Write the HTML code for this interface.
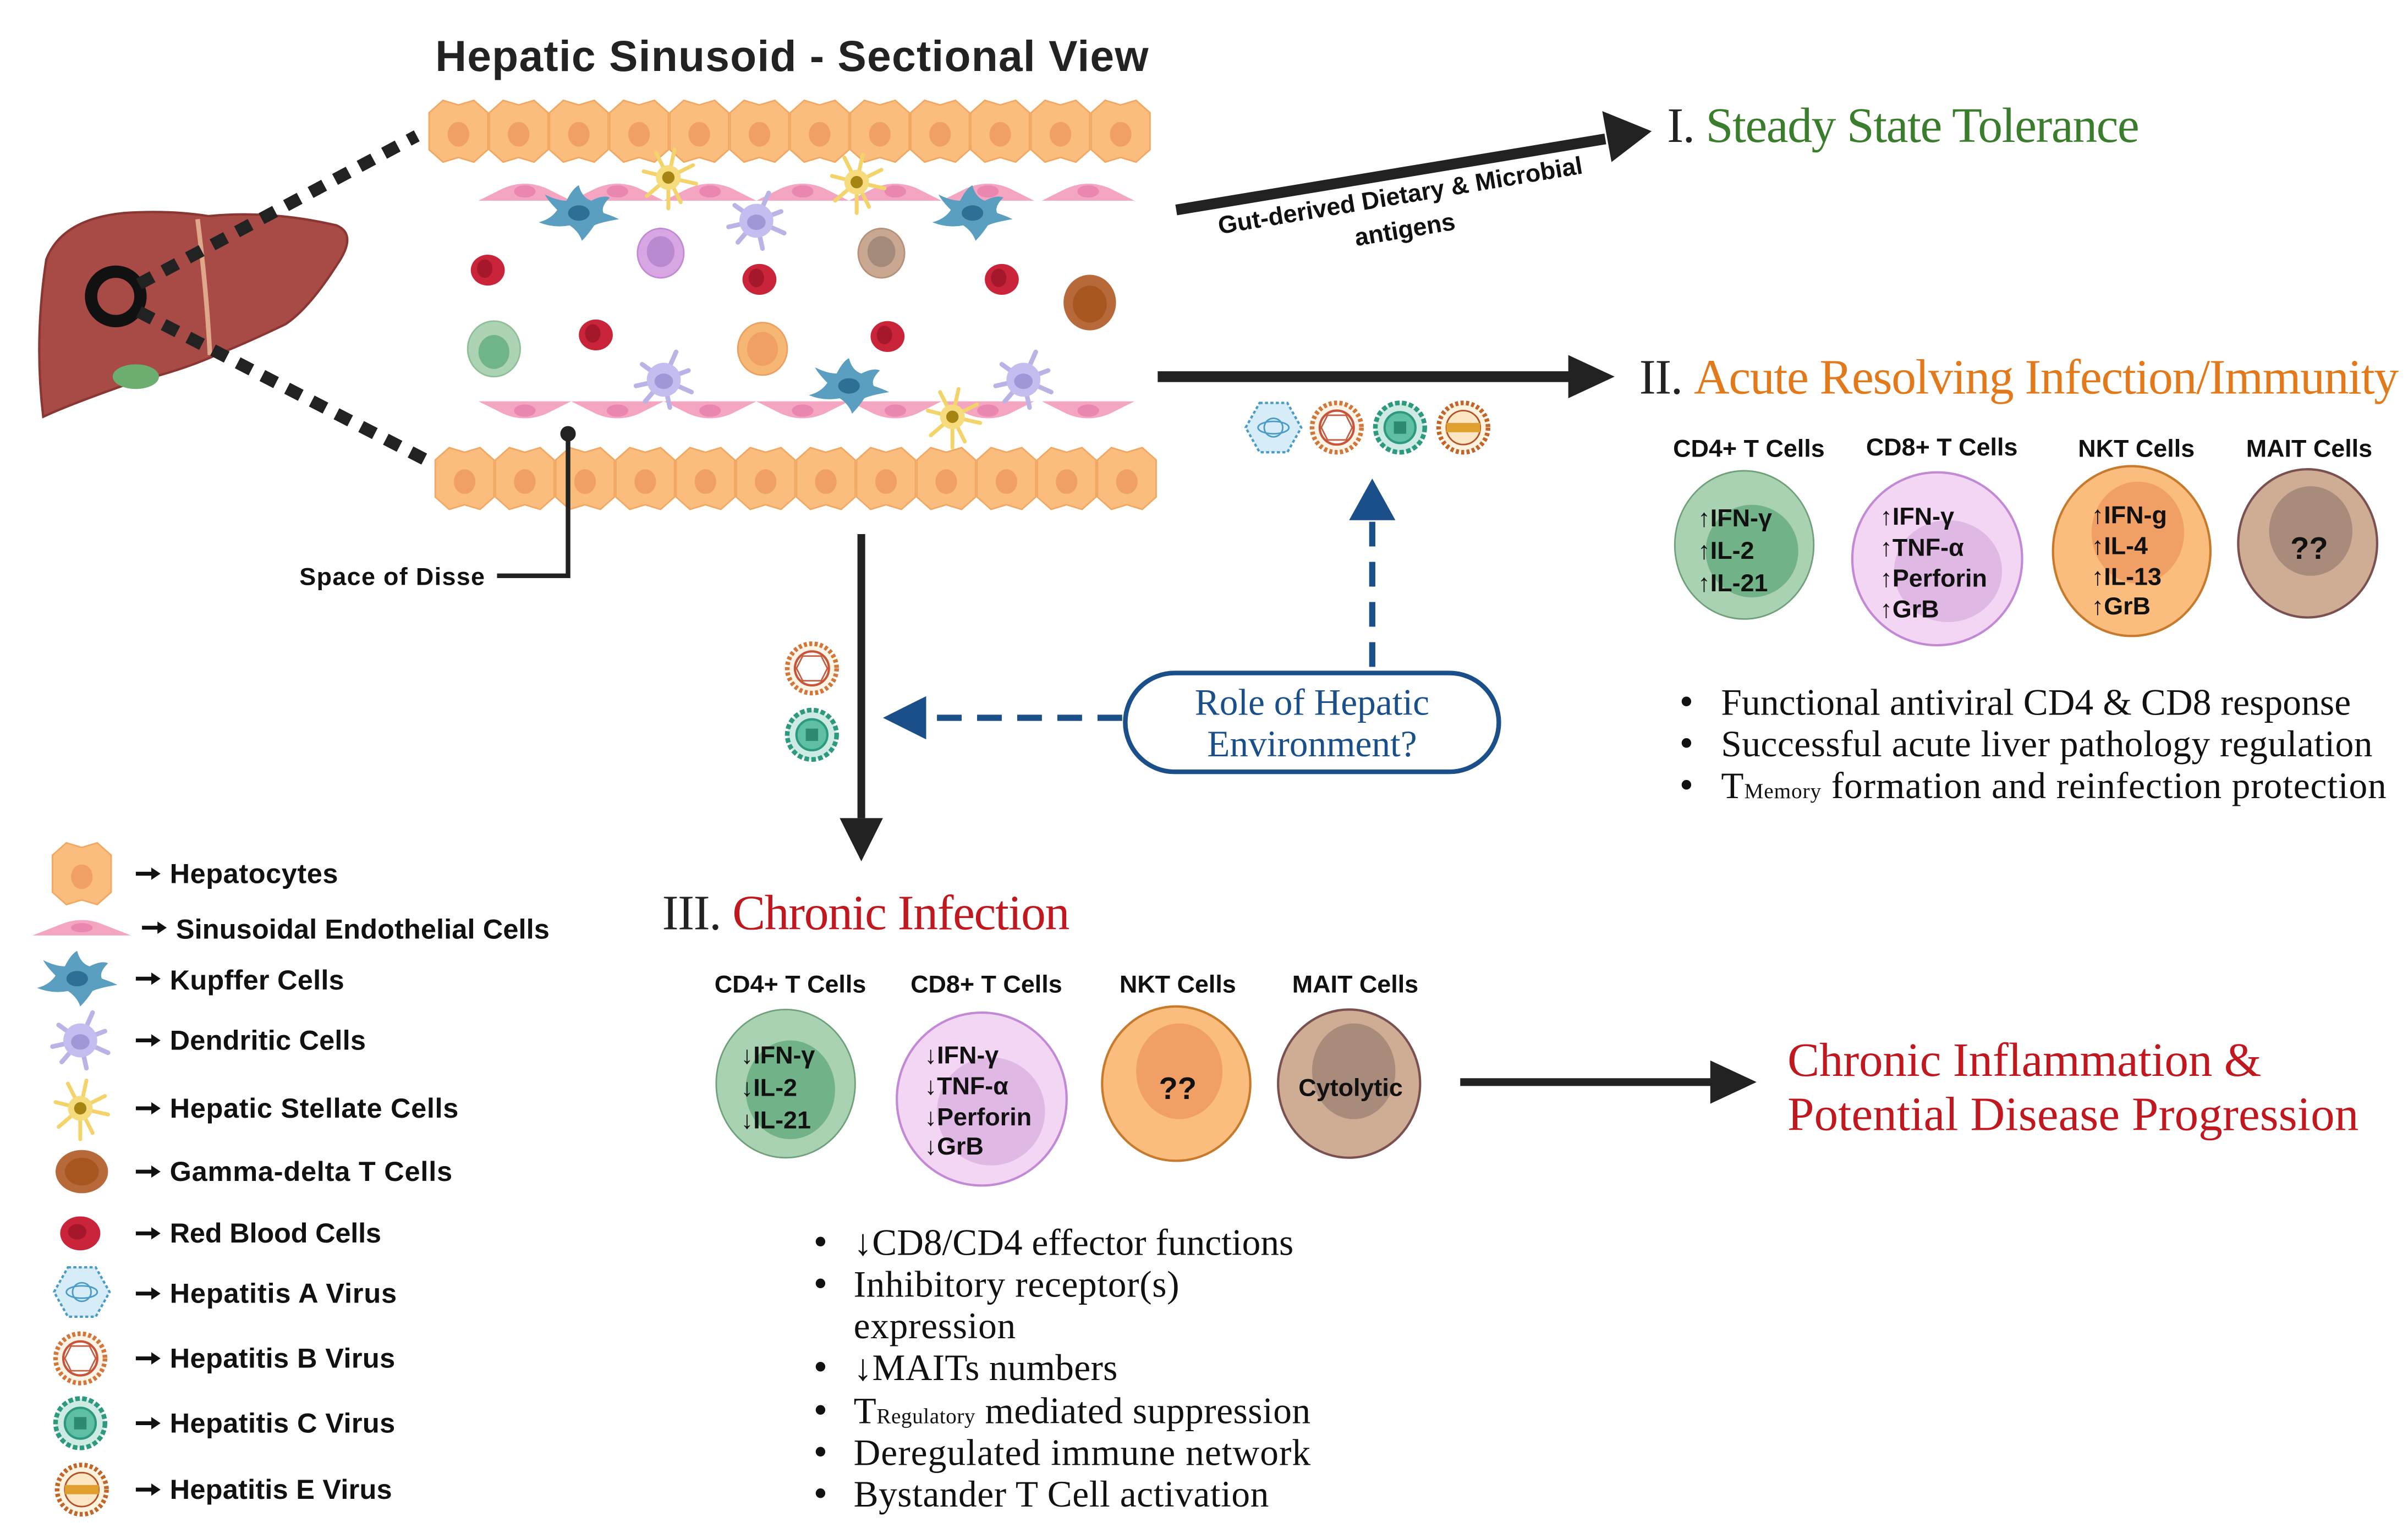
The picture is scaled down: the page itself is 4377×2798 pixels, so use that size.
<!DOCTYPE html>
<html><head><meta charset="utf-8">
<style>
html,body{margin:0;padding:0;background:#fff;}
svg{display:block;}
.sb{font-family:"Liberation Sans",sans-serif;font-weight:bold;}
.sf{font-family:"Liberation Serif",serif;}
</style></head>
<body>
<svg width="4377" height="2798" viewBox="0 0 1560 997" preserveAspectRatio="none" xmlns="http://www.w3.org/2000/svg">
<defs>
  <g id="hep">
    <path d="M-19,-12 L-10,-20 L0,-17 L10,-20 L19,-12 L19,12 L10,20 L0,17 L-10,20 L-19,12 Z" fill="#fbbd7e" stroke="#f0a862" stroke-width="1"/>
    <ellipse cx="0" cy="2" rx="7" ry="8" fill="#f0a064"/>
  </g>
  <g id="endo">
    <path d="M-30,4 L-14,-4 Q0,-10 14,-4 L30,4 Z" fill="#f4a5c2"/>
    <ellipse cx="0" cy="-2" rx="7" ry="4" fill="#e987b0"/>
  </g>
  <g id="endoD">
    <path d="M-30,-4 L-14,4 Q0,10 14,4 L30,-4 Z" fill="#f4a5c2"/>
    <ellipse cx="0" cy="2" rx="7" ry="4" fill="#e987b0"/>
  </g>
  <g id="kup">
    <path d="M-26,6 Q-18,4 -14,-2 Q-20,-8 -22,-12 Q-14,-8 -8,-8 Q-4,-16 0,-18 Q2,-10 8,-8 Q16,-12 20,-10 Q14,-4 16,0 Q22,2 26,4 Q14,6 10,8 Q6,14 2,18 Q0,12 -6,8 Q-16,10 -26,6Z" fill="#5a9fc0"/>
    <ellipse cx="0" cy="0" rx="7" ry="5" fill="#2e6f95"/>
  </g>
  <g id="den" stroke="#b9b3e6" stroke-width="3" stroke-linecap="round">
    <line x1="0" y1="0" x2="-14" y2="-10"/><line x1="0" y1="0" x2="8" y2="-18"/><line x1="0" y1="0" x2="16" y2="-6"/>
    <line x1="0" y1="0" x2="18" y2="8"/><line x1="0" y1="0" x2="4" y2="18"/><line x1="0" y1="0" x2="-12" y2="14"/><line x1="0" y1="0" x2="-18" y2="4"/>
    <circle r="11" fill="#c4bdf0" stroke="none"/><ellipse cx="0" cy="1" rx="6" ry="5" fill="#9f98d6" stroke="none"/>
  </g>
  <g id="stel" stroke="#f3d46a" stroke-width="2.5" stroke-linecap="round">
    <line x1="0" y1="0" x2="-16" y2="-4"/><line x1="0" y1="0" x2="-8" y2="-16"/><line x1="0" y1="0" x2="4" y2="-18"/><line x1="0" y1="0" x2="16" y2="-8"/>
    <line x1="0" y1="0" x2="18" y2="4"/><line x1="0" y1="0" x2="8" y2="16"/><line x1="0" y1="0" x2="0" y2="20"/><line x1="0" y1="0" x2="-14" y2="12"/>
    <circle r="8" fill="#f6dc7c" stroke="none"/><circle r="4" fill="#a68413" stroke="none"/>
  </g>
  <g id="rbc"><ellipse rx="11" ry="10" fill="#c9243a"/><ellipse cx="-2" cy="-1" rx="5" ry="6" fill="#a5172a"/></g>
  <g id="hav"><path d="M-9,-16 L9,-16 L18,0 L9,16 L-9,16 L-18,0Z" fill="#d6ecf6" stroke="#4a9cc6" stroke-width="1.5" stroke-dasharray="2 1.5"/><circle r="6" fill="none" stroke="#4a9cc6" stroke-width="1"/><ellipse rx="10" ry="4" fill="none" stroke="#4a9cc6" stroke-width="1"/></g>
  <g id="hbv"><circle r="16" fill="#fff3e6" stroke="#d2763a" stroke-width="3" stroke-dasharray="2 1.5"/><circle r="11" fill="#fff" stroke="#c8553a" stroke-width="1.5"/><path d="M-6,-8 L6,-8 L10,0 L6,8 L-6,8 L-10,0Z" fill="none" stroke="#c06040" stroke-width="1"/></g>
  <g id="hcv"><circle r="16" fill="#cdebe2" stroke="#2d9a80" stroke-width="3" stroke-dasharray="3 1.5"/><circle r="10" fill="#5fbfa3" stroke="#2d9a80" stroke-width="1.5"/><rect x="-4" y="-4" width="8" height="8" fill="#2d8a70"/></g>
  <g id="hev"><circle r="16" fill="#fff3e0" stroke="#c0662a" stroke-width="3" stroke-dasharray="2 1.5"/><circle r="11" fill="#fde6c4" stroke="#b55025" stroke-width="1"/><rect x="-11" y="-3" width="22" height="6" fill="#e0a030"/></g>
</defs>

<text x="513" y="46" class="sb" font-size="28" text-anchor="middle" fill="#222" textLength="462">Hepatic Sinusoid - Sectional View</text>

<path d="M30,168 Q40,142 80,138 Q110,136 135,140 Q175,136 218,146 Q232,152 218,172 Q200,200 185,210 Q160,222 140,230 Q118,240 85,248 Q45,262 28,270 Q22,220 30,168Z" fill="#a84a46" stroke="#8a3733" stroke-width="1.5"/>
<ellipse cx="88" cy="244" rx="15" ry="8" fill="#6bae6f"/>
<path d="M128,142 Q134,190 136,230" stroke="#e0a88a" stroke-width="3" fill="none"/>
<circle cx="75" cy="192" r="16" fill="none" stroke="#111" stroke-width="8"/>
<line x1="90" y1="184" x2="270" y2="88" stroke="#222" stroke-width="8" stroke-dasharray="10 8"/>
<line x1="90" y1="202" x2="276" y2="298" stroke="#222" stroke-width="8" stroke-dasharray="10 8"/>

<g>
<use href="#hep" x="297" y="85"/><use href="#hep" x="336" y="85"/><use href="#hep" x="375" y="85"/><use href="#hep" x="414" y="85"/><use href="#hep" x="453" y="85"/><use href="#hep" x="492" y="85"/><use href="#hep" x="531" y="85"/><use href="#hep" x="570" y="85"/><use href="#hep" x="609" y="85"/><use href="#hep" x="648" y="85"/><use href="#hep" x="687" y="85"/><use href="#hep" x="726" y="85"/>
</g>
<g>
<use href="#hep" x="301" y="310"/><use href="#hep" x="340" y="310"/><use href="#hep" x="379" y="310"/><use href="#hep" x="418" y="310"/><use href="#hep" x="457" y="310"/><use href="#hep" x="496" y="310"/><use href="#hep" x="535" y="310"/><use href="#hep" x="574" y="310"/><use href="#hep" x="613" y="310"/><use href="#hep" x="652" y="310"/><use href="#hep" x="691" y="310"/><use href="#hep" x="730" y="310"/>
</g>
<g>
<use href="#endo" x="340" y="126"/><use href="#endo" x="400" y="126"/><use href="#endo" x="460" y="126"/><use href="#endo" x="520" y="126"/><use href="#endo" x="580" y="126"/><use href="#endo" x="640" y="126"/><use href="#endo" x="705" y="126"/>
<use href="#endoD" x="340" y="264"/><use href="#endoD" x="400" y="264"/><use href="#endoD" x="460" y="264"/><use href="#endoD" x="520" y="264"/><use href="#endoD" x="580" y="264"/><use href="#endoD" x="640" y="264"/><use href="#endoD" x="705" y="264"/>
</g>
<use href="#stel" x="433" y="115"/><use href="#stel" x="555" y="118"/><use href="#stel" x="617" y="270"/>
<use href="#kup" x="375" y="138"/><use href="#kup" x="630" y="138"/><use href="#kup" x="550" y="250"/>
<use href="#den" x="490" y="143"/><use href="#den" x="430" y="246"/><use href="#den" x="663" y="246"/>
<use href="#rbc" x="316" y="175"/><use href="#rbc" x="492" y="181"/><use href="#rbc" x="649" y="181"/><use href="#rbc" x="386" y="217"/><use href="#rbc" x="575" y="218"/>
<ellipse cx="428" cy="164" rx="15" ry="16" fill="#d7a6e3" stroke="#c28ad4"/><ellipse cx="428" cy="163" rx="9" ry="10" fill="#b98ad0"/>
<ellipse cx="571" cy="164" rx="15" ry="16" fill="#c9a791" stroke="#b3917a"/><ellipse cx="571" cy="163" rx="9" ry="10" fill="#a48a7b"/>
<ellipse cx="706" cy="196" rx="17" ry="18" fill="#b8693a"/><ellipse cx="706" cy="197" rx="11" ry="12" fill="#a75620"/>
<ellipse cx="320" cy="226" rx="17" ry="18" fill="#acd4b4" stroke="#8fbf98"/><ellipse cx="320" cy="228" rx="10" ry="11" fill="#6fb48a"/>
<ellipse cx="494" cy="226" rx="16" ry="17" fill="#f7b774" stroke="#eaa060"/><ellipse cx="494" cy="226" rx="10" ry="11" fill="#f0a064"/>

<circle cx="368" cy="281" r="5" fill="#222"/>
<polyline points="368,281 368,373 322,373" fill="none" stroke="#222" stroke-width="3"/>
<text x="194" y="379" class="sb" font-size="16" fill="#111" textLength="120">Space of Disse</text>

<line x1="762" y1="136" x2="1040" y2="90" stroke="#222" stroke-width="7"/>
<path d="M1070,85 L1038,72 L1044,105Z" fill="#222"/>
<text class="sb" font-size="16" fill="#111" transform="translate(908,132) rotate(-9.5)" text-anchor="middle">Gut-derived Dietary &amp; Microbial</text>
<text class="sb" font-size="16" fill="#111" transform="translate(911,154) rotate(-9.5)" text-anchor="middle">antigens</text>
<text x="1080" y="92" class="sf" font-size="32" textLength="306"><tspan fill="#222">I. </tspan><tspan fill="#3a7d2c">Steady State Tolerance</tspan></text>

<line x1="750" y1="244" x2="1020" y2="244" stroke="#222" stroke-width="7"/>
<path d="M1046,244 L1016,230 L1016,258Z" fill="#222"/>
<text x="1062" y="255" class="sf" font-size="32" textLength="492"><tspan fill="#222">II. </tspan><tspan fill="#e27a1b">Acute Resolving Infection/Immunity</tspan></text>

<use href="#hav" x="825" y="277"/><use href="#hbv" x="866" y="277"/><use href="#hcv" x="907" y="277"/><use href="#hev" x="948" y="277"/>

<g class="sb" font-size="16" fill="#111" text-anchor="middle">
<text x="1133" y="296">CD4+ T Cells</text><text x="1258" y="295">CD8+ T Cells</text><text x="1384" y="296">NKT Cells</text><text x="1496" y="296">MAIT Cells</text>
</g>
<ellipse cx="1130" cy="353" rx="45" ry="48" fill="#a9d2b2" stroke="#6fa07a"/><ellipse cx="1135" cy="357" rx="30" ry="30" fill="#72b289"/>
<ellipse cx="1255" cy="362" rx="55" ry="56" fill="#f3d6f3" stroke="#c28ad4" stroke-width="1.5"/><ellipse cx="1262" cy="370" rx="35" ry="33" fill="#e0b8e4"/>
<ellipse cx="1381" cy="357" rx="51" ry="55" fill="#fbbd7e" stroke="#c77a2c" stroke-width="1.5"/><ellipse cx="1385" cy="345" rx="30" ry="33" fill="#f0a064"/>
<ellipse cx="1495" cy="352" rx="45" ry="48" fill="#cfac94" stroke="#7a5050" stroke-width="1.5"/><ellipse cx="1497" cy="344" rx="27" ry="29" fill="#a88b7b"/>
<g class="sb" font-size="16" fill="#111">
<text x="1100" y="341">↑IFN-γ</text><text x="1100" y="362">↑IL-2</text><text x="1100" y="383">↑IL-21</text>
<text x="1218" y="340">↑IFN-γ</text><text x="1218" y="360">↑TNF-α</text><text x="1218" y="380">↑Perforin</text><text x="1218" y="400">↑GrB</text>
<text x="1355" y="339">↑IFN-g</text><text x="1355" y="359">↑IL-4</text><text x="1355" y="379">↑IL-13</text><text x="1355" y="398">↑GrB</text>
<text x="1496" y="362" text-anchor="middle" font-size="20">??</text>
</g>
<g class="sf" font-size="24" fill="#111">
<text x="1088" y="463" font-size="26">•</text><text x="1115" y="463" textLength="408">Functional antiviral CD4 &amp; CD8 response</text>
<text x="1088" y="490" font-size="26">•</text><text x="1115" y="490" textLength="422">Successful acute liver pathology regulation</text>
<text x="1088" y="517" font-size="26">•</text><text x="1115" y="517" textLength="431">T<tspan font-size="14">Memory</tspan> formation and reinfection protection</text>
</g>

<line x1="889" y1="432" x2="889" y2="338" stroke="#1a4f8a" stroke-width="4" stroke-dasharray="16 10"/>
<path d="M889,310 L874,337 L904,337Z" fill="#1a4f8a"/>
<rect x="729" y="436" width="242" height="64" rx="32" fill="#fff" stroke="#1a4f8a" stroke-width="3"/>
<text x="850" y="463" class="sf" font-size="24" fill="#1a4f8a" text-anchor="middle">Role of Hepatic</text>
<text x="850" y="490" class="sf" font-size="24" fill="#1a4f8a" text-anchor="middle">Environment?</text>
<line x1="727" y1="465" x2="602" y2="465" stroke="#1a4f8a" stroke-width="4" stroke-dasharray="16 10"/>
<path d="M572,465 L600,451 L600,479Z" fill="#1a4f8a"/>

<line x1="558" y1="346" x2="558" y2="530" stroke="#222" stroke-width="5"/>
<path d="M558,558 L544,530 L572,530Z" fill="#222"/>
<use href="#hbv" x="526" y="433"/><use href="#hcv" x="526" y="476"/>

<text x="429" y="602" class="sf" font-size="32" textLength="264"><tspan fill="#222">III. </tspan><tspan fill="#c0181e">Chronic Infection</tspan></text>
<g class="sb" font-size="16" fill="#111" text-anchor="middle">
<text x="512" y="643">CD4+ T Cells</text><text x="639" y="643">CD8+ T Cells</text><text x="763" y="643">NKT Cells</text><text x="878" y="643">MAIT Cells</text>
</g>
<ellipse cx="509" cy="702" rx="45" ry="48" fill="#a9d2b2" stroke="#6fa07a"/><ellipse cx="512" cy="706" rx="29" ry="32" fill="#72b289"/>
<ellipse cx="636" cy="712" rx="55" ry="56" fill="#f3d6f3" stroke="#c28ad4" stroke-width="1.5"/><ellipse cx="642" cy="720" rx="35" ry="35" fill="#e0b8e4"/>
<ellipse cx="762" cy="702" rx="48" ry="50" fill="#fbbd7e" stroke="#c77a2c" stroke-width="1.5"/><ellipse cx="764" cy="694" rx="28" ry="31" fill="#f0a064"/>
<ellipse cx="874" cy="702" rx="46" ry="48" fill="#cfac94" stroke="#7a5050" stroke-width="1.5"/><ellipse cx="877" cy="694" rx="27" ry="31" fill="#a88b7b"/>
<g class="sb" font-size="16" fill="#111">
<text x="480" y="689">↓IFN-γ</text><text x="480" y="710">↓IL-2</text><text x="480" y="731">↓IL-21</text>
<text x="599" y="689">↓IFN-γ</text><text x="599" y="709">↓TNF-α</text><text x="599" y="729">↓Perforin</text><text x="599" y="748">↓GrB</text>
<text x="763" y="712" text-anchor="middle" font-size="20">??</text>
<text x="875" y="710" text-anchor="middle">Cytolytic</text>
</g>
<line x1="946" y1="701" x2="1110" y2="701" stroke="#222" stroke-width="5"/>
<path d="M1138,701 L1108,687 L1108,715Z" fill="#222"/>
<text x="1158" y="697" class="sf" font-size="31" fill="#c0181e" textLength="307">Chronic Inflammation &amp;</text>
<text x="1158" y="732" class="sf" font-size="31" fill="#c0181e" textLength="370">Potential Disease Progression</text>

<g class="sf" font-size="24" fill="#111">
<text x="527" y="813" font-size="26">•</text><text x="553" y="813" textLength="285">↓CD8/CD4 effector functions</text>
<text x="527" y="840" font-size="26">•</text><text x="553" y="840" textLength="211">Inhibitory receptor(s)</text>
<text x="553" y="867" textLength="105">expression</text>
<text x="527" y="894" font-size="26">•</text><text x="553" y="894" textLength="171">↓MAITs numbers</text>
<text x="527" y="922" font-size="26">•</text><text x="553" y="922" textLength="296">T<tspan font-size="14">Regulatory</tspan> mediated suppression</text>
<text x="527" y="949" font-size="26">•</text><text x="553" y="949" textLength="296">Deregulated immune network</text>
<text x="527" y="976" font-size="26">•</text><text x="553" y="976" textLength="269">Bystander T Cell activation</text>
</g>

<use href="#hep" x="53" y="566"/>
<g transform="translate(53,601)"><path d="M-32,5 L-14,-2 Q0,-8 14,-2 L32,5 Z" fill="#f4a5c2"/><ellipse cx="0" cy="0" rx="7" ry="3" fill="#e987b0"/></g>
<use href="#kup" x="50" y="634"/>
<use href="#den" x="52" y="674"/>
<use href="#stel" x="52" y="718"/>
<g transform="translate(53,759)"><ellipse rx="17" ry="14" fill="#b8693a"/><ellipse rx="11" ry="9" fill="#a75620"/></g>
<g transform="translate(52,799)"><ellipse rx="13" ry="11" fill="#c9243a"/><ellipse cx="-2" cy="-1" rx="6" ry="5" fill="#a5172a"/></g>
<use href="#hav" x="53" y="837"/><use href="#hbv" x="52" y="880"/><use href="#hcv" x="52" y="922"/><use href="#hev" x="53" y="965"/>
<g fill="#111" stroke="#111" stroke-width="2.5">
<line x1="88" y1="566" x2="100" y2="566"/><line x1="92" y1="601" x2="104" y2="601"/><line x1="88" y1="634" x2="100" y2="634"/><line x1="88" y1="674" x2="100" y2="674"/><line x1="88" y1="718" x2="100" y2="718"/><line x1="88" y1="759" x2="100" y2="759"/><line x1="88" y1="799" x2="100" y2="799"/><line x1="88" y1="838" x2="100" y2="838"/><line x1="88" y1="880" x2="100" y2="880"/><line x1="88" y1="922" x2="100" y2="922"/><line x1="88" y1="965" x2="100" y2="965"/>
</g>
<g fill="#111">
<path d="M104,566 l-6,-4 v8z"/><path d="M108,601 l-6,-4 v8z"/><path d="M104,634 l-6,-4 v8z"/><path d="M104,674 l-6,-4 v8z"/><path d="M104,718 l-6,-4 v8z"/><path d="M104,759 l-6,-4 v8z"/><path d="M104,799 l-6,-4 v8z"/><path d="M104,838 l-6,-4 v8z"/><path d="M104,880 l-6,-4 v8z"/><path d="M104,922 l-6,-4 v8z"/><path d="M104,965 l-6,-4 v8z"/>
</g>
<g class="sb" font-size="18" fill="#111">
<text x="110" y="572" textLength="109">Hepatocytes</text>
<text x="114" y="608" textLength="242">Sinusoidal Endothelial Cells</text>
<text x="110" y="641" textLength="113">Kupffer Cells</text>
<text x="110" y="680" textLength="127">Dendritic Cells</text>
<text x="110" y="724" textLength="187">Hepatic Stellate Cells</text>
<text x="110" y="765" textLength="183">Gamma-delta T Cells</text>
<text x="110" y="805" textLength="137">Red Blood Cells</text>
<text x="110" y="844" textLength="147">Hepatitis A Virus</text>
<text x="110" y="886" textLength="146">Hepatitis B Virus</text>
<text x="110" y="928" textLength="146">Hepatitis C Virus</text>
<text x="110" y="971" textLength="144">Hepatitis E Virus</text>
</g>
</svg>
</body></html>
